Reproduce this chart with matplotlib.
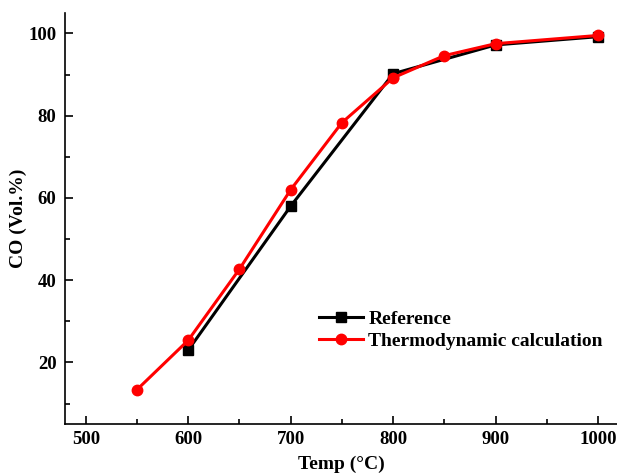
import matplotlib
matplotlib.use("Agg")
import matplotlib.pyplot as plt
from matplotlib.ticker import MultipleLocator

ref_x = [600, 700, 800, 900, 1000]
ref_y = [23.0, 58.0, 90.2, 97.2, 99.2]
calc_x = [550, 600, 650, 700, 750, 800, 850, 900, 1000]
calc_y = [13.4, 25.4, 42.7, 62.0, 78.3, 89.2, 94.6, 97.5, 99.5]

plt.rcParams['font.family'] = ['Liberation Serif', 'DejaVu Serif']
plt.rcParams['font.weight'] = 'bold'

fig = plt.figure(figsize=(6.17, 4.75), dpi=100)
ax = fig.add_axes([0.105, 0.107, 0.895, 0.866])

ax.plot(ref_x, ref_y, color='black', lw=2.2, marker='s', ms=6.5, label='Reference')
ax.plot(calc_x, calc_y, color='red', lw=2.2, marker='o', ms=7.5, label='Thermodynamic calculation')

ax.set_xlim(479.5, 1018.5)
ax.set_ylim(5, 105)
ax.xaxis.set_major_locator(MultipleLocator(100))
ax.xaxis.set_minor_locator(MultipleLocator(50))
ax.yaxis.set_major_locator(MultipleLocator(20))
ax.yaxis.set_minor_locator(MultipleLocator(10))
ax.tick_params(which='both', direction='in', width=1.2, labelsize=13.5)
ax.tick_params(which='major', length=6)
ax.tick_params(which='minor', length=3.5)
ax.tick_params(axis='x', pad=5)
ax.tick_params(axis='y', pad=6)
for lab in ax.get_xticklabels() + ax.get_yticklabels():
    lab.set_fontweight('bold')
for s in ['top', 'right']:
    ax.spines[s].set_visible(False)
for s in ['left', 'bottom']:
    ax.spines[s].set_linewidth(1.2)

ax.set_xlabel('Temp (°C)', fontsize=14, fontweight='bold')
ax.set_ylabel('CO (Vol.%)', fontsize=14, fontweight='bold')
ax.xaxis.set_label_coords(0.5, -0.097)
ax.yaxis.set_label_coords(-0.085, 0.5)
ax.xaxis.label.set_va('center')
ax.yaxis.label.set_va('center')

leg = ax.legend(loc='upper left', bbox_to_anchor=(0.435, 0.31), frameon=False,
                prop={'weight': 'bold', 'size': 14}, handlelength=2.3,
                handletextpad=0.25, labelspacing=0.22, borderpad=0.2)

fig.savefig('out.png', dpi=100)
